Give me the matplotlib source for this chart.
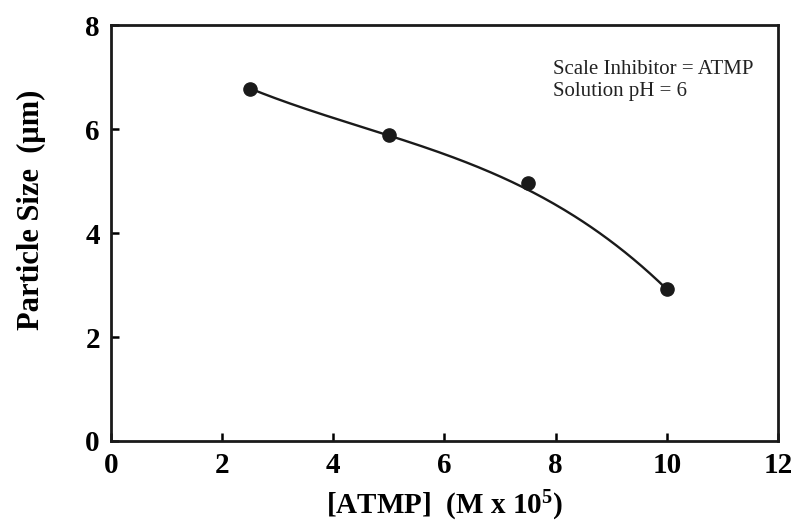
import numpy as np
import matplotlib
matplotlib.use("Agg")
import matplotlib.pyplot as plt

# data
atmp_conc = [2.5, 5.0, 7.5, 10.0]          # [ATMP] (M x 10^5)
particle_size = [6.78, 5.88, 4.96, 2.92]   # um

# trend curve
curve_x = [2.5, 3.4, 5.0, 6.7, 7.54, 8.8, 10.0]
curve_y = [6.78, 6.43, 5.88, 5.21, 4.83, 3.99, 2.92]

x_ticks = [0, 2, 4, 6, 8, 10, 12]
y_ticks = [0, 2, 4, 6, 8]
note_lines = ["Scale Inhibitor = ATMP", "Solution pH = 6"]

plt.rcParams['font.family'] = ['Liberation Serif', 'DejaVu Serif']
plt.rcParams['mathtext.fontset'] = 'custom'
plt.rcParams['mathtext.rm'] = 'Liberation Serif:bold'
plt.rcParams['mathtext.it'] = 'Liberation Serif:bold'
plt.rcParams['mathtext.bf'] = 'Liberation Serif:bold'

fig = plt.figure(figsize=(8.02, 5.24), dpi=100)
ax = fig.add_axes([0.1384, 0.1584, 0.8316, 0.7936])

# smooth the traced curve with a cubic
coef = np.polyfit(curve_x, curve_y, 3)
xs = np.linspace(curve_x[0], curve_x[-1], 200)
ax.plot(xs, np.polyval(coef, xs), color='#1a1a1a', lw=1.7, zorder=2)
ax.plot(atmp_conc, particle_size, 'o', color='#1a1a1a', ms=9.5, zorder=3)

ax.set_xlim(0, 12)
ax.set_ylim(0, 8)
ax.set_xticks(x_ticks)
ax.set_yticks(y_ticks)
ax.tick_params(direction='in', length=6, width=1.8, labelsize=21,
               top=False, right=False)
ax.tick_params(axis='x', pad=8)
ax.tick_params(axis='y', pad=8)
for lab in ax.get_xticklabels() + ax.get_yticklabels():
    lab.set_fontweight('bold')
for sp in ax.spines.values():
    sp.set_linewidth(2.0)
    sp.set_color('#1a1a1a')

ax.set_xlabel(r"[ATMP]  (M x 10$^{5}$)", fontsize=21, fontweight='bold')
ax.set_ylabel(u"Particle Size  (\u03bcm)", fontsize=22, fontweight='bold')
ax.xaxis.set_label_coords(0.5, -0.115)
ax.yaxis.set_label_coords(-0.097, 0.555)

ax.text(0.663, 0.915, "\n".join(note_lines), transform=ax.transAxes,
        fontsize=15, va='top', ha='left', linespacing=1.2, color='#222222')

fig.savefig("out.png", dpi=100)
